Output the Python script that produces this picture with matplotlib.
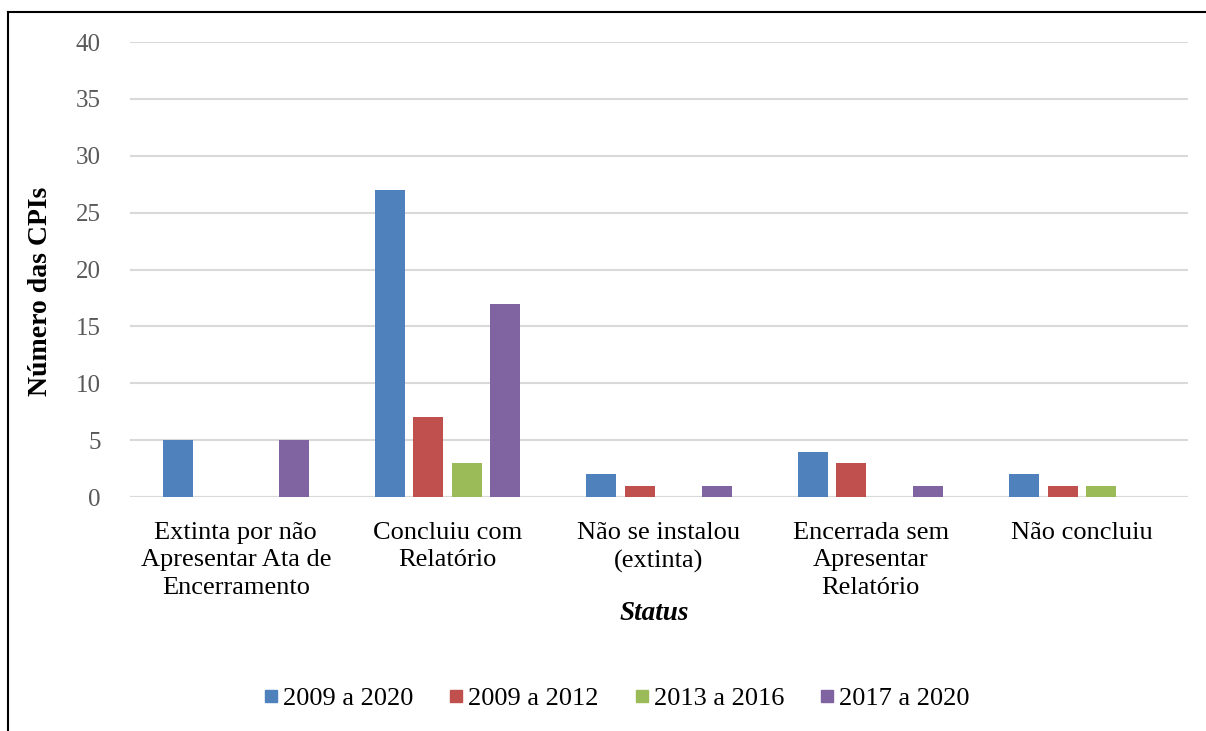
import matplotlib
matplotlib.use("Agg")
import matplotlib.pyplot as plt
import numpy as np
from matplotlib.lines import Line2D

plt.rcParams['font.family'] = ['Liberation Serif', 'DejaVu Serif']

categories = [
    "Extinta por não\nApresentar Ata de\nEncerramento",
    "Concluiu com\nRelatório",
    "Não se instalou\n(extinta)",
    "Encerrada sem\nApresentar\nRelatório",
    "Não concluiu",
]
series_names = ["2009 a 2020", "2009 a 2012", "2013 a 2016", "2017 a 2020"]
s_2009_2020 = [5, 27, 2, 4, 2]
s_2009_2012 = [0, 7, 1, 3, 1]
s_2013_2016 = [0, 3, 0, 0, 1]
s_2017_2020 = [5, 17, 1, 1, 0]
yticks = [0, 5, 10, 15, 20, 25, 30, 35, 40]

colors = ["#4F81BD", "#C0504D", "#9BBB59", "#8064A2"]
series = [s_2009_2020, s_2009_2012, s_2013_2016, s_2017_2020]

fig = plt.figure(figsize=(12.06, 7.31), dpi=100)
W, H = 1206, 731
ax = fig.add_axes([130 / W, 1 - 497 / H, (1188 - 130) / W, (497 - 42) / H])

x = np.arange(len(categories))
slot = 0.182
bw = 0.142
for i, (vals, c) in enumerate(zip(series, colors)):
    offs = (i - 1.5) * slot
    ax.bar(x + offs, vals, width=bw, color=c, zorder=3, label=series_names[i])

ax.set_xlim(-0.5, len(categories) - 0.5)
ax.set_ylim(0, 40)
ax.set_yticks(yticks)
ax.set_yticklabels([str(t) for t in yticks], color="#595959", fontsize=18)
ax.yaxis.grid(True, color="#D9D9D9", linewidth=1.5, zorder=0)
ax.tick_params(axis='y', length=0, pad=21)
ax.tick_params(axis='x', length=0, pad=18)
ax.set_xticks(x)
ax.set_xticklabels(categories, fontsize=19, color="black", linespacing=1.32)
for s in ax.spines.values():
    s.set_visible(False)
ax.axhline(0, color="#D9D9D9", linewidth=1.5, zorder=2)

fig.text(41 / W, 1 - 291 / H, "Número das CPIs", rotation=90, ha="center", va="center",
         fontsize=20, fontweight="bold")
fig.text(654 / W, 1 - 614 / H, "Status", ha="center", va="center",
         fontsize=19.5, fontweight="bold", fontstyle="italic")

handles = [Line2D([0], [0], marker='s', linestyle='none', markersize=9,
                  markerfacecolor=c, markeredgecolor=c) for c in colors]
fig.legend(handles, series_names, loc="center", bbox_to_anchor=(615 / W, 1 - 698 / H),
           ncol=4, frameon=False, fontsize=19, handletextpad=0.05, columnspacing=1.23,
           handlelength=0.8)

# outer frame
fig.add_artist(Line2D([8 / W, 8 / W], [0, 1 - 12 / H], transform=fig.transFigure,
                      color="black", linewidth=1.5))
fig.add_artist(Line2D([8 / W, 1], [1 - 12 / H, 1 - 12 / H], transform=fig.transFigure,
                      color="black", linewidth=1.5))

fig.savefig("out.png", dpi=100)
